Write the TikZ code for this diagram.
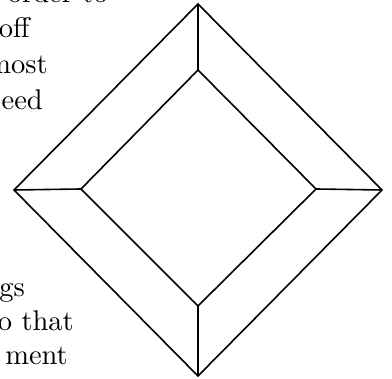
\documentclass[tikz,border=0pt]{standalone}
\usepackage{fontspec}
\newfontfamily\bodyfont[Extension=.otf]{lmroman10-regular}
\begin{document}
\begin{tikzpicture}[x=1pt,y=1pt,
  frame/.style={line width=1.6pt, line join=miter},
  txt/.style={anchor=base east, inner sep=0pt, font=\bodyfont\fontsize{28.5}{34}\selectfont}]
\useasboundingbox (0,0) rectangle (392,379);
\clip (0,0) rectangle (392,379);
% outer diamond corners (y measured from top: y = 379 - y_img)
\coordinate (OT) at (198,375);
\coordinate (OR) at (382,189);
\coordinate (OB) at (198,3);
\coordinate (OL) at (14,189);
% inner diamond corners
\coordinate (IT) at (198,309);
\coordinate (IR) at (316,190);
\coordinate (IB) at (198,73);
\coordinate (IL) at (81,190);
\draw[frame] (OT) -- (OR) -- (OB) -- (OL) -- cycle;
\draw[frame] (IT) -- (IR) -- (IB) -- (IL) -- cycle;
\draw[frame] (OT) -- (IT);
\draw[frame] (OR) -- (IR);
\draw[frame] (OB) -- (IB);
\draw[frame] (OL) -- (IL);
% cropped text lines at the left
\node[txt] (t1) at (108,376) {order to};
\node[txt] (t2) at (30,341) {off};
\node[txt] (t3) at (48,305) {most};
\node[txt] (t4) at (43,269) {eed};
\node[txt] (t5) at (25,82) {gs};
\node[txt] (t6) at (74,48) {o that};
\node[txt] (t7) at (68,14) {ment};
\end{tikzpicture}
\end{document}
